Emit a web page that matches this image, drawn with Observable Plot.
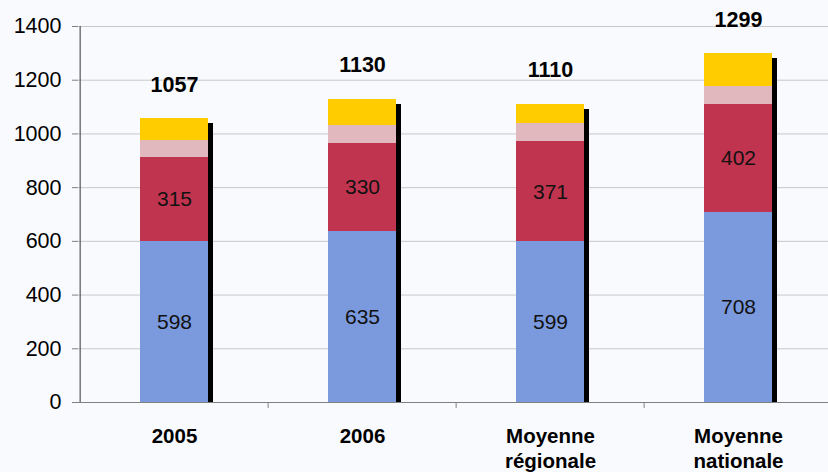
<!DOCTYPE html>
<html>
<head>
<meta charset="utf-8">
<script src="https://cdn.jsdelivr.net/npm/d3@7"></script>
<script src="https://cdn.jsdelivr.net/npm/@observablehq/plot@0.6"></script>
<style>
  html, body { margin: 0; padding: 0; background: #f9fafe; }
</style>
</head>
<body>
<div id="chart"></div>
<script>
const categories = ["2005", "2006", "Moyenne\nrégionale", "Moyenne\nnationale"];
const series = ["Série 1", "Série 2", "Série 3", "Série 4"];
const seriesColors = ["#7b9ade", "#c1344f", "#e1b8be", "#ffcc00"];
const serie1 = [598, 635, 599, 708];
const serie2 = [315, 330, 371, 402];
const serie3 = [64, 65, 69, 68];
const serie4 = [80, 100, 71, 121];
const totals = [1057, 1130, 1110, 1299];
const yTicks = [0, 200, 400, 600, 800, 1000, 1200, 1400];
const labeledSeries = ["Série 1", "Série 2"];

const valuesBySeries = [serie1, serie2, serie3, serie4];
const rows = [];
categories.forEach((cat, i) => {
  series.forEach((s, j) => rows.push({cat, series: s, value: valuesBySeries[j][i]}));
});
const labelRows = rows.filter(r => labeledSeries.includes(r.series));
const totalRows = categories.map((cat, i) => ({cat, total: totals[i]}));
const fmt = d => String(d);

const chart = Plot.plot({
  width: 828,
  height: 472,
  marginLeft: 78,
  marginRight: 0,
  marginTop: 26,
  marginBottom: 70,
  style: {background: "#f9fafe", fontFamily: "'Liberation Sans', Arial, sans-serif", overflow: "visible"},
  x: {domain: categories, range: [78, 833], paddingInner: 0.64, paddingOuter: 0.32, label: null},
  y: {domain: [0, 1400], label: null},
  color: {domain: series, range: seriesColors},
  marks: [
    Plot.gridY(yTicks, {stroke: "#c8c8c8", strokeOpacity: 1}),
    Plot.barY(totalRows, {x: "cat", y: "total", fill: "#000", dx: 5, insetTop: 5, shapeRendering: "crispEdges"}),
    Plot.barY(rows, {x: "cat", y: "value", fill: "series", z: "series", shapeRendering: "crispEdges"}),
    Plot.text(labelRows, Plot.stackY({x: "cat", y: "value", z: "series", text: d => fmt(d.value), fontSize: 21, fill: "#111"})),
    Plot.text(totalRows, {x: "cat", y: "total", text: d => fmt(d.total), dy: -34, fontSize: 21.5, fontWeight: "bold", fill: "#000"}),
    Plot.ruleY([0], {stroke: "#808080"}),
    Plot.ruleX(categories.slice(1), {x: d => d, dx: -94.375, y1: 0, y2: -22, stroke: "#808080"}),
    Plot.ruleX(categories.slice(0, 1), {x: d => d, dx: -94.375, y1: 0, y2: 1400, stroke: "#333"}),
    Plot.axisY(yTicks, {tickSize: 6, tickPadding: 11, fontSize: 21.5, stroke: "#808080", tickFormat: fmt, label: null}),
    Plot.axisX({tickSize: 0, tickPadding: 23, fontSize: 20.5, fontWeight: "bold", lineHeight: 1.2, label: null})
  ]
});
document.getElementById("chart").appendChild(chart);
</script>
</body>
</html>
